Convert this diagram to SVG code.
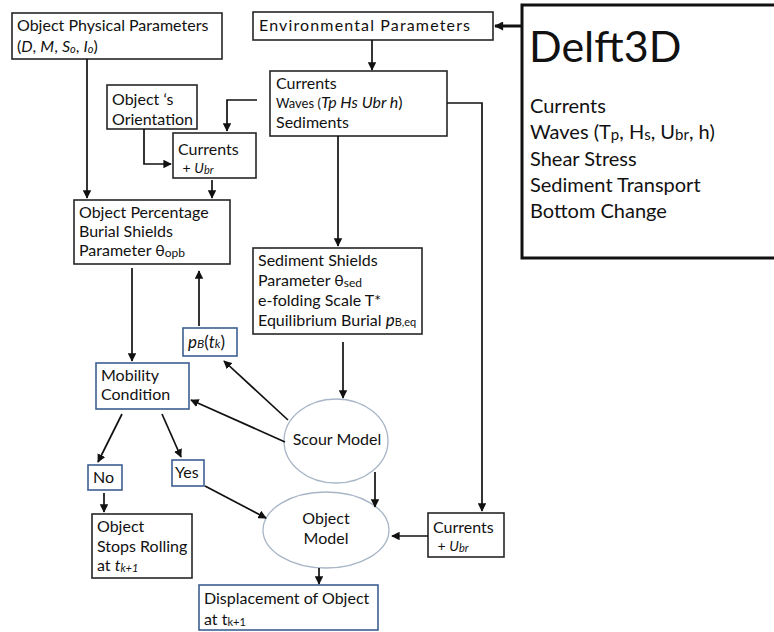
<svg xmlns="http://www.w3.org/2000/svg" width="774" height="632" viewBox="0 0 774 632">
<style>
.box{fill:#fff;stroke:#262626;stroke-width:1.6}
.bbox{fill:#fff;stroke:#3D5F91;stroke-width:1.6}
.ell{fill:#fff;stroke:#A8B5C7;stroke-width:1.3}
.t{font-family:Lato,"Open Sans",sans-serif;font-size:16px;fill:#111}
.big{font-family:Lato,"Open Sans",sans-serif;fill:#111}
.i{font-style:italic}
.c line,.c polyline{fill:none;stroke:#111;stroke-width:1.7;marker-end:url(#ah)}
</style>
<defs>
<marker id="ah" viewBox="0 0 10 10" refX="9" refY="5" markerWidth="5" markerHeight="5" orient="auto" markerUnits="strokeWidth">
<path d="M0,0 L10,5 L0,10 z" fill="#111"/>
</marker>
<marker id="ahb" viewBox="0 0 10 10" refX="9" refY="5" markerWidth="3.5" markerHeight="3" orient="auto" markerUnits="strokeWidth">
<path d="M0,0 L10,5 L0,10 z" fill="#111"/>
</marker>
</defs>
<rect width="774" height="632" fill="#fff"/>

<g id="delft3d">
<rect x="522" y="5" width="262" height="253" fill="#fff" stroke="#111" stroke-width="3"/>
<text class="big" x="529" y="62" font-size="43">Delft3D</text>
<text class="big" font-size="20"><tspan x="530" y="113">Currents</tspan><tspan x="530" y="139">Waves (T<tspan font-size="15" dy="1">p</tspan><tspan dy="-1">, H</tspan><tspan font-size="15" dy="1">s</tspan><tspan dy="-1">, U</tspan><tspan font-size="15" dy="1">br</tspan><tspan dy="-1">, h)</tspan></tspan><tspan x="530" y="166">Shear Stress</tspan><tspan x="530" y="192">Sediment Transport</tspan><tspan x="530" y="218">Bottom Change</tspan></text>
</g>

<g id="physical">
<rect class="box" x="12" y="13" width="210" height="46"/>
<text class="t"><tspan x="17" y="31">Object Physical Parameters</tspan><tspan x="17" y="52">(<tspan class="i">D</tspan>, <tspan class="i">M</tspan>, <tspan class="i">S</tspan><tspan class="i" font-size="11" dy="1">o</tspan><tspan dy="-1">, </tspan><tspan class="i">I</tspan><tspan class="i" font-size="11" dy="1">o</tspan><tspan dy="-1">)</tspan></tspan></text>
</g>

<g id="env">
<rect class="box" x="253" y="12" width="240" height="28"/>
<text class="t" x="259" y="31" font-size="17" textLength="211">Environmental Parameters</text>
</g>

<g id="cws">
<rect class="box" x="270" y="71" width="177" height="65"/>
<text class="t"><tspan x="276" y="89">Currents</tspan><tspan x="276" y="108"><tspan font-size="13">Waves (</tspan><tspan class="i">Tp Hs Ubr h</tspan>)</tspan><tspan x="276" y="128">Sediments</tspan></text>
</g>

<g id="orientation">
<rect class="box" x="107" y="85" width="90" height="44"/>
<text class="t"><tspan x="112" y="105">Object ‘s</tspan><tspan x="112" y="125">Orientation</tspan></text>
</g>

<g id="currents-ubr-1">
<rect class="box" x="173" y="133" width="83" height="45"/>
<text class="t"><tspan x="178" y="155">Currents</tspan><tspan x="179" y="173" font-size="14"> + <tspan class="i">U<tspan font-size="11" dy="1">br</tspan></tspan></tspan></text>
</g>

<g id="opb">
<rect class="box" x="74" y="200" width="156" height="64"/>
<text class="t"><tspan x="79" y="218">Object Percentage</tspan><tspan x="79" y="237">Burial Shields</tspan><tspan x="79" y="256">Parameter θ<tspan font-size="12" dy="1">opb</tspan></tspan></text>
</g>

<g id="sediment">
<rect class="box" x="253" y="248" width="169" height="86"/>
<text class="t"><tspan x="258" y="266">Sediment Shields</tspan><tspan x="258" y="286">Parameter θ<tspan font-size="12" dy="1">sed</tspan></tspan><tspan x="258" y="306">e-folding Scale T*</tspan><tspan x="258" y="326">Equilibrium Burial <tspan class="i" font-size="17">p</tspan><tspan font-size="11">B,eq</tspan></tspan></text>
</g>

<g id="pb">
<rect class="bbox" x="183" y="328" width="54" height="28"/>
<text class="t" x="188" y="348"><tspan class="i" font-size="17">p</tspan><tspan class="i" font-size="12">B</tspan><tspan font-size="17">(</tspan><tspan class="i" font-size="17">t</tspan><tspan class="i" font-size="12">k</tspan><tspan font-size="17">)</tspan></text>
</g>

<g id="mobility">
<rect class="bbox" x="96" y="363" width="93" height="46"/>
<text class="t"><tspan x="101" y="381">Mobility</tspan><tspan x="101" y="400">Condition</tspan></text>
</g>

<g id="scour">
<ellipse class="ell" cx="336" cy="441" rx="52" ry="42"/>
<text class="t" x="337" y="445" text-anchor="middle">Scour Model</text>
</g>

<g id="objmodel">
<ellipse class="ell" cx="326" cy="530" rx="63" ry="38"/>
<text class="t" text-anchor="middle"><tspan x="326" y="524">Object</tspan><tspan x="326" y="544">Model</tspan></text>
</g>

<g id="no">
<rect class="bbox" x="88" y="465" width="34" height="25"/>
<text class="t" x="93" y="483">No</text>
</g>

<g id="yes">
<rect class="bbox" x="172" y="460" width="32" height="26"/>
<text class="t" x="175" y="478">Yes</text>
</g>

<g id="stops">
<rect class="box" x="92" y="514" width="100" height="64"/>
<text class="t"><tspan x="97" y="532">Object</tspan><tspan x="97" y="552">Stops Rolling</tspan><tspan x="97" y="571">at <tspan class="i">t<tspan font-size="11" dy="1">k+1</tspan></tspan></tspan></text>
</g>

<g id="currents-ubr-2">
<rect class="box" x="428" y="513" width="76" height="44"/>
<text class="t"><tspan x="433" y="533">Currents</tspan><tspan x="434" y="551" font-size="14"> + <tspan class="i">U<tspan font-size="11" dy="1">br</tspan></tspan></tspan></text>
</g>

<g id="displacement">
<rect class="bbox" x="199" y="585" width="179" height="45"/>
<text class="t"><tspan x="204" y="604">Displacement of Object</tspan><tspan x="204" y="625">at t<tspan font-size="11" dy="1">k+1</tspan></tspan></text>
</g>

<g id="connectors" class="c">
<line x1="522" y1="26" x2="495" y2="26" style="stroke-width:3;marker-end:url(#ahb)"/>
<line x1="372" y1="40" x2="372" y2="70"/>
<polyline points="257,100 227,100 227,131"/>
<polyline points="447,103 482,103 482,511"/>
<line x1="338" y1="136" x2="338" y2="246"/>
<line x1="87" y1="59" x2="87" y2="198"/>
<polyline points="144,129 144,164 171,164"/>
<line x1="212" y1="180" x2="212" y2="198"/>
<line x1="132" y1="268" x2="132" y2="361"/>
<line x1="199" y1="326" x2="199" y2="271"/>
<line x1="343" y1="342" x2="343" y2="398"/>
<line x1="288" y1="420" x2="224" y2="361"/>
<line x1="285" y1="442" x2="191" y2="400"/>
<line x1="122" y1="414" x2="98" y2="462"/>
<line x1="162" y1="414" x2="181" y2="457"/>
<line x1="205" y1="486" x2="266" y2="518"/>
<line x1="104" y1="493" x2="104" y2="512"/>
<line x1="375" y1="472" x2="375" y2="507"/>
<line x1="428" y1="536" x2="392" y2="536"/>
<line x1="319" y1="568" x2="319" y2="584"/>
</g>
</svg>
